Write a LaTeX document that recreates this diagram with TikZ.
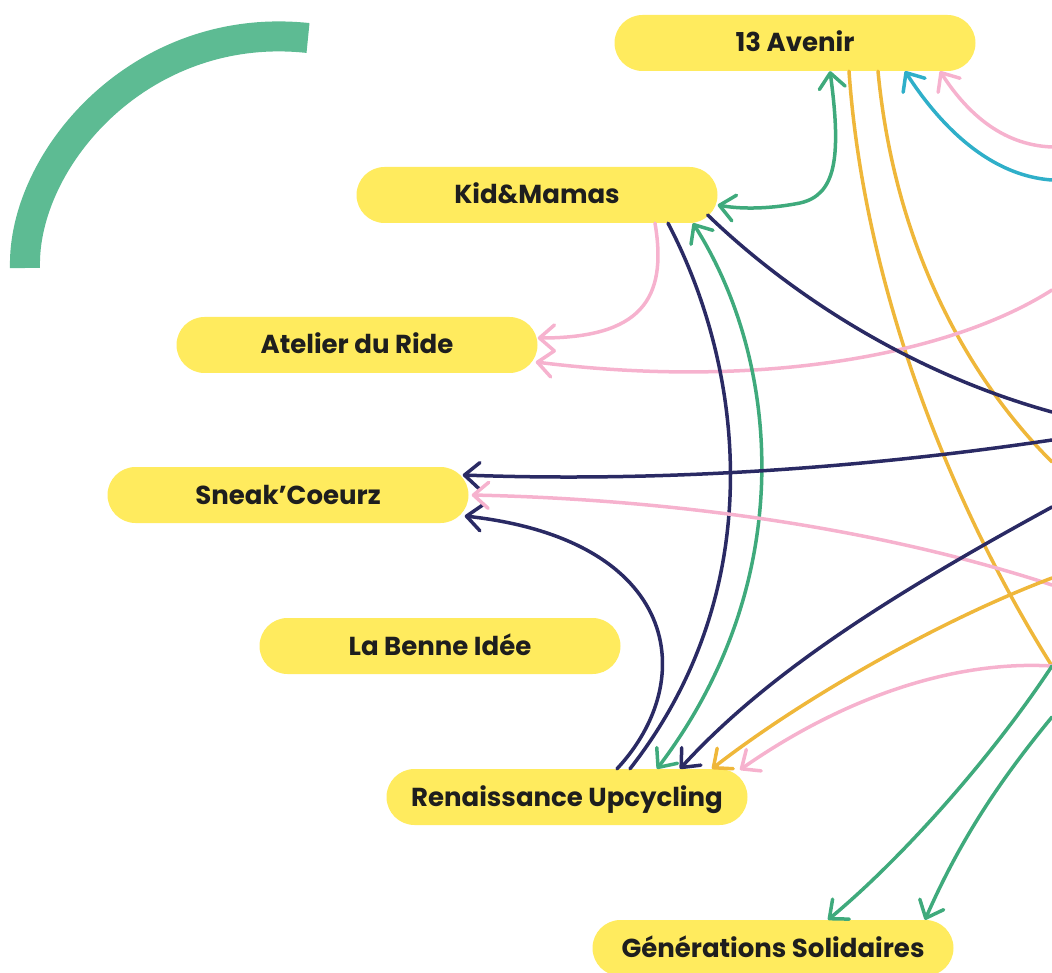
\documentclass[tikz,border=0pt]{standalone}
\usepackage{fontspec}
\setmainfont{Poppins}
\usetikzlibrary{arrows.meta}

\begin{document}
\begin{tikzpicture}[x=1pt,y=-1pt,
  pill/.style={fill=net_pill, rounded corners=28pt, minimum width=361pt, minimum height=56pt,
    inner sep=0pt, text height=18pt, text depth=0pt, text=net_text,
    font=\bfseries\fontsize{26}{30}\selectfont},
  link/.style={line width=3.5pt, line cap=round, >={Straight Barb[length=15pt,width=26pt,round]}}]
% ------------------------------------------------ network colors
\definecolor{net_pill}{RGB}{255,235,94}   %#FFEB5E
\definecolor{net_text}{RGB}{30,30,30}     %#1E1E1E
\definecolor{net_navy}{RGB}{42,42,100}    %#2A2A64
\definecolor{net_green}{RGB}{63,170,124}  %#3FAA7C
\definecolor{net_pink}{RGB}{246,178,206}  %#F6B2CE
\definecolor{net_gold}{RGB}{239,183,58}   %#EFB73A
\definecolor{net_cyan}{RGB}{47,175,201}   %#2FAFC9
\definecolor{net_leaf}{RGB}{93,187,147}   %#5DBB93

\useasboundingbox (0,0) rectangle (1052,973);
\clip (0,0) rectangle (1052,973);

% ------------------------------------------------ green stroke, top left
\draw[line width=30pt, color=net_leaf, line join=round] (25,268) .. controls (22,160) and (140,20) .. (308,38);

% ------------------------------------------------ the partners
\node[pill] (avenir)      at (795,43)  {13 Avenir};
\node[pill] (kid)         at (537,195) {Kid\&Mamas};
\node[pill] (atelier)     at (357,345) {Atelier du Ride};
\node[pill] (sneak)       at (288,495) {Sneak’Coeurz};
\node[pill] (benne)       at (440,646) {La Benne Idée};
\node[pill] (renaissance) at (567,797) {Renaissance Upcycling};
\node[pill] (generations) at (773,948) {Générations Solidaires};

% ------------------------------------------------ ends beyond the right side
\coordinate (east147) at (1052,147);
\coordinate (east180) at (1052,180);
\coordinate (east290) at (1052,290);
\coordinate (east412) at (1052,412);
\coordinate (east440) at (1052,440);
\coordinate (east462) at (1052,462);
\coordinate (east507) at (1052,507);
\coordinate (east578) at (1052,578);
\coordinate (east585) at (1052,585);
\coordinate (hub)     at (1052,666);
\coordinate (east717) at (1052,717);

% ------------------------------------------------ links
\draw[link, net_green, <->] ([xshift=35pt]avenir.south) .. controls (842,160) and (835,195) .. (800,203)
      .. controls (775,208) and (745,210) .. ([yshift=-10pt]kid.east);
\draw[link, net_gold] ([xshift=54pt]avenir.south) .. controls (865,300) and (960,520) .. (hub);
\draw[link, net_gold] ([xshift=83pt]avenir.south) .. controls (895,250) and (970,380) .. (east462);
\draw[link, net_cyan, ->] (east180) .. controls (980,175) and (930,110) .. ([xshift=110pt]avenir.south);
\draw[link, net_pink, ->] (east147) .. controls (1000,145) and (965,110) .. ([xshift=145pt]avenir.south);

\draw[link, net_pink, ->] ([xshift=118pt]kid.south) .. controls (668,300) and (640,338) .. ([yshift=7pt]atelier.east);
\draw[link, net_pink, ->] (east290) .. controls (950,355) and (760,390) .. ([shift={(-2pt,-17pt)}]atelier.east);
\draw[link, net_navy] ([shift={(-10pt,-20pt)}]kid.east) .. controls (780,285) and (900,370) .. (east412);
\draw[link, net_navy] ([xshift=131pt]kid.south) .. controls (745,370) and (770,590) .. ([xshift=63pt]renaissance.north);
\draw[link, net_green, <->] ([xshift=156pt]kid.south) .. controls (780,360) and (800,580) .. ([xshift=90pt]renaissance.north);

\draw[link, net_navy, ->] ([xshift=50pt]renaissance.north) .. controls (700,680) and (680,540) .. ([shift={(-4pt,-21pt)}]sneak.east);
\draw[link, net_navy, ->] (east440) .. controls (850,470) and (650,482) .. ([shift={(-6pt,20pt)}]sneak.east);
\draw[link, net_pink, ->] (east585) .. controls (900,535) and (700,500) .. ([xshift=3pt]sneak.east);

\draw[link, net_navy, ->] (east507) .. controls (900,590) and (770,670) .. ([xshift=113pt]renaissance.north);
\draw[link, net_gold, ->] (east578) .. controls (940,620) and (800,700) .. ([xshift=145pt]renaissance.north);
\draw[link, net_pink, ->] (hub) .. controls (950,660) and (840,700) .. ([shift={(173pt,-1pt)}]renaissance.north);

\draw[link, net_green, ->] (hub) .. controls (990,760) and (900,860) .. ([xshift=55pt]generations.north);
\draw[link, net_green, ->] (east717) .. controls (1000,780) and (960,840) .. ([xshift=152pt]generations.north);

\end{tikzpicture}
\end{document}
